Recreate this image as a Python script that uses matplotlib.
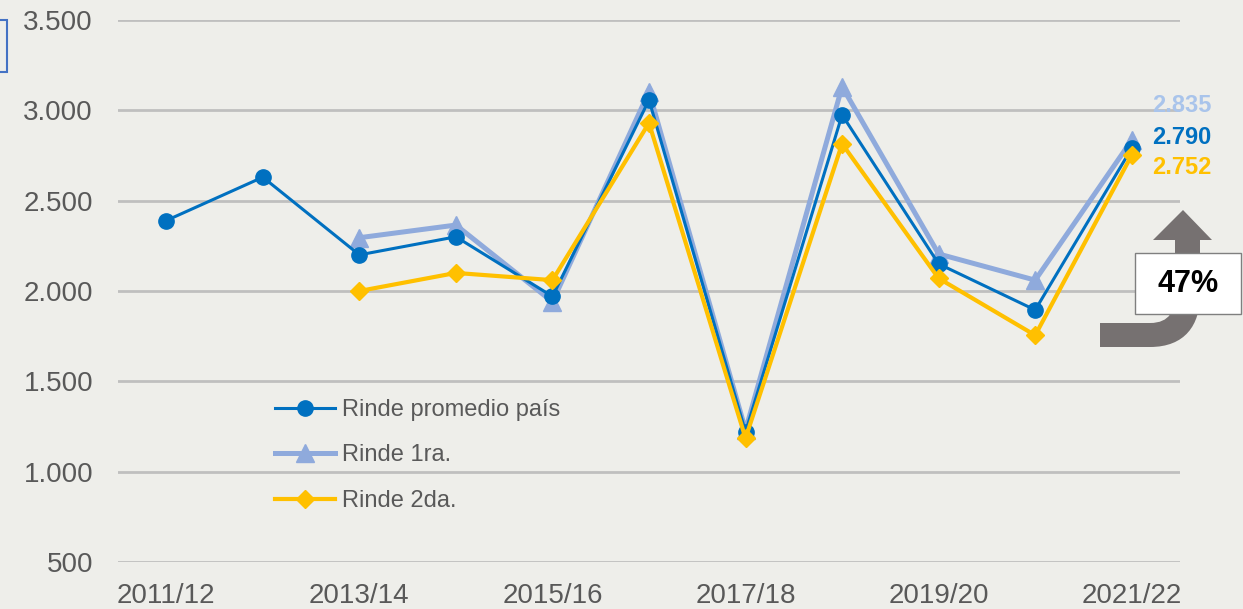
import matplotlib.pyplot as plt
import numpy as np
from matplotlib.path import Path
from matplotlib.patches import PathPatch, Rectangle

campanias = ['2011/12', '2012/13', '2013/14', '2014/15', '2015/16', '2016/17',
             '2017/18', '2018/19', '2019/20', '2020/21', '2021/22']
rinde_promedio = [2390, 2630, 2200, 2300, 1970, 3057, 1220, 2975, 2150, 1895, 2790]
rinde_1ra = [np.nan, np.nan, 2295, 2365, 1940, 3103, 1230, 3131, 2205, 2060, 2835]
rinde_2da = [np.nan, np.nan, 2000, 2100, 2060, 2930, 1185, 2815, 2070, 1755, 2752]
variacion = '47%'

BG = '#EEEEEA'
AZUL = '#0070C0'
CELESTE = '#8FAADC'
AMARILLO = '#FFC000'
GRIS_TXT = '#595959'

W, H = 1243, 609


def px(x, y):
    # pixel coords of the picture -> figure fraction
    return x / W, 1 - y / H


plt.rcParams['font.family'] = ['Liberation Sans', 'DejaVu Sans']

fig = plt.figure(figsize=(W / 100, H / 100), dpi=100, facecolor=BG)
ax = fig.add_axes([118 / W, 1 - 562 / H, (1180 - 118) / W, (562 - 20) / H])
ax.set_facecolor(BG)

x = np.arange(len(campanias))
ax.plot(x, rinde_1ra, color=CELESTE, lw=3.6, marker='^', ms=13, label='Rinde 1ra.', zorder=3)
ax.plot(x, rinde_promedio, color=AZUL, lw=2.2, marker='o', ms=11, label='Rinde promedio país', zorder=4)
ax.plot(x, rinde_2da, color=AMARILLO, lw=3.0, marker='D', ms=9, label='Rinde 2da.', zorder=5)

ax.set_xlim(-0.5, len(campanias) - 0.5)
ax.set_ylim(500, 3500)
ax.set_yticks(np.arange(500, 3501, 500))
ax.set_yticklabels([f'{v:,}'.replace(',', '.') for v in range(500, 3501, 500)])
ax.set_xticks(x[::2])
ax.set_xticklabels(campanias[::2])
ax.tick_params(axis='y', length=0, pad=18, labelsize=20, labelcolor=GRIS_TXT)
ax.tick_params(axis='x', length=0, pad=15, labelsize=20, labelcolor=GRIS_TXT)
ax.grid(axis='y', color='#BFBFBF', lw=2)
ax.set_axisbelow(True)
for s in ax.spines.values():
    s.set_visible(False)

handles, labels = ax.get_legend_handles_labels()
order = [1, 0, 2]
leg = ax.legend([handles[i] for i in order], [labels[i] for i in order],
                loc='upper left', bbox_to_anchor=(0.148, 0.301), frameon=False,
                fontsize=17, handlelength=2.55, handletextpad=0.3,
                labelspacing=1.0, borderpad=0, borderaxespad=0)
for t in leg.get_texts():
    t.set_color(GRIS_TXT)

# valores finales
fig.text(*px(1152, 105), '2.835', color='#A9C4EB', fontsize=17, fontweight='bold', va='center', ha='left')
fig.text(*px(1152, 137), '2.790', color=AZUL, fontsize=17, fontweight='bold', va='center', ha='left')
fig.text(*px(1152, 167), '2.752', color=AMARILLO, fontsize=17, fontweight='bold', va='center', ha='left')

# flecha curva
pts = [(1100, 323), (1150, 323), (1170, 323), (1175, 310), (1175, 295), (1175, 240),
       (1153, 240), (1183, 210), (1212, 240), (1200, 240), (1200, 295),
       (1200, 325), (1185, 347), (1150, 347), (1100, 347), (1100, 323)]
codes = [Path.MOVETO, Path.LINETO, Path.CURVE4, Path.CURVE4, Path.CURVE4, Path.LINETO,
         Path.LINETO, Path.LINETO, Path.LINETO, Path.LINETO, Path.LINETO,
         Path.CURVE4, Path.CURVE4, Path.CURVE4, Path.LINETO, Path.CLOSEPOLY]
flecha = Path([px(a, b) for a, b in pts], codes)
fig.patches.append(PathPatch(flecha, facecolor='#767171', edgecolor='none',
                             transform=fig.transFigure, zorder=5))

x0, y0 = px(1135, 314)
x1, y1 = px(1241, 253)
fig.patches.append(Rectangle((x0, y0), x1 - x0, y1 - y0, facecolor='white',
                             edgecolor='#7F7F7F', lw=1, transform=fig.transFigure, zorder=6))
fig.text((x0 + x1) / 2, (y0 + y1) / 2, variacion, fontsize=22, fontweight='bold',
         color='black', ha='center', va='center', zorder=7)

# borde recortado a la izquierda
r0, s0 = px(-20, 72)
r1, s1 = px(7, 20)
fig.patches.append(Rectangle((r0, s0), r1 - r0, s1 - s0, facecolor='none',
                             edgecolor='#4472C4', lw=1.5, transform=fig.transFigure))

fig.savefig('out.png', dpi=100, facecolor=BG)
